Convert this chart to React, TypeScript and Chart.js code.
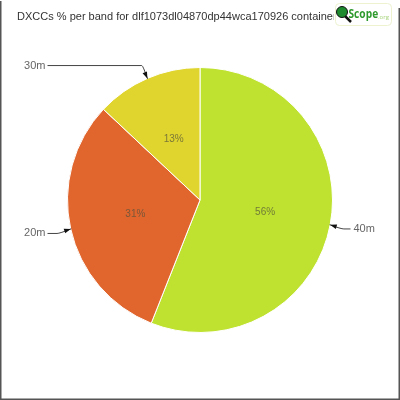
import React, { useEffect, useRef } from "react";
import { Chart, registerables } from "chart.js";

Chart.register(...registerables);

const titleText = "DXCCs % per band for dlf1073dl04870dp44wca170926 container";
const bands = ["40m", "20m", "30m"];
const shares = [56, 31, 13];
const colors = ["#bee22f", "#e0662e", "#e0d52e"];

const decorPlugin = {
  id: "decor",
  afterDatasetsDraw(chart: any) {
    const ctx = chart.ctx as CanvasRenderingContext2D;
    const meta = chart.getDatasetMeta(0);
    const total = shares.reduce((a, b) => a + b, 0);
    ctx.save();
    meta.data.forEach((arc: any, i: number) => {
      const { x, y, startAngle, endAngle, outerRadius } = arc.getProps(
        ["x", "y", "startAngle", "endAngle", "outerRadius"],
        true
      );
      const mid = (startAngle + endAngle) / 2;
      const dx = Math.cos(mid);
      const dy = Math.sin(mid);
      // percentage label
      ctx.font = "10px 'Liberation Sans', 'DejaVu Sans', sans-serif";
      ctx.fillStyle = "rgba(80,80,60,0.7)";
      ctx.textAlign = "center";
      ctx.textBaseline = "middle";
      const pct = Math.round((shares[i] / total) * 100) + "%";
      ctx.fillText(pct, x + dx * outerRadius * 0.5, y + dy * outerRadius * 0.5);

      // outside label with arrow
      const tipX = x + dx * outerRadius;
      const tipY = y + dy * outerRadius;
      const bx = tipX + dx * 14;
      const by = tipY + dy * 14 + (Math.abs(dy) < 0.5 ? 1.5 : 0);
      const left = dx < 0;
      const colX = left ? x - outerRadius - 22 : x + outerRadius + 20;
      ctx.strokeStyle = "#444";
      ctx.lineWidth = 1;
      ctx.beginPath();
      ctx.moveTo(left ? colX + 2 : colX - 2, by);
      ctx.lineTo(bx, by);
      ctx.quadraticCurveTo(bx + (tipX - bx) * 0.2, by, tipX - dx * 0.5, tipY - dy * 0.5);
      ctx.stroke();
      // arrowhead
      const ang = Math.atan2(tipY - by, tipX - bx);
      const sz = 7;
      ctx.fillStyle = "#111";
      ctx.beginPath();
      ctx.moveTo(tipX, tipY);
      ctx.lineTo(tipX - sz * Math.cos(ang - 0.35), tipY - sz * Math.sin(ang - 0.35));
      ctx.lineTo(tipX - sz * Math.cos(ang + 0.35), tipY - sz * Math.sin(ang + 0.35));
      ctx.closePath();
      ctx.fill();

      ctx.font = "11px 'Liberation Sans', 'DejaVu Sans', sans-serif";
      ctx.fillStyle = "#666";
      ctx.textAlign = left ? "right" : "left";
      ctx.fillText(bands[i], left ? colX : colX + 1, by);
    });

    // title
    ctx.font = "11px 'Liberation Sans', 'DejaVu Sans', sans-serif";
    ctx.fillStyle = "#333";
    ctx.textAlign = "left";
    ctx.textBaseline = "middle";
    const part = titleText.slice(0, 57);
    const w = ctx.measureText(part).width;
    const sx = 316 / w;
    ctx.save();
    ctx.translate(17, 16.5);
    ctx.scale(sx, 1);
    ctx.fillText(titleText, 0, 0);
    ctx.restore();

    // logo
    ctx.fillStyle = "#fff";
    ctx.fillRect(334, 3, 58, 24);
    ctx.strokeStyle = "#eef2cf";
    ctx.lineWidth = 1;
    ctx.beginPath();
    (ctx as any).roundRect(335.5, 3.5, 56, 22, 4);
    ctx.stroke();
    // magnifier handle
    ctx.strokeStyle = "#111";
    ctx.lineWidth = 2.5;
    ctx.beginPath();
    ctx.moveTo(345, 16);
    ctx.lineTo(351, 22);
    ctx.stroke();
    ctx.fillStyle = "#1e8a2e";
    ctx.beginPath();
    ctx.arc(342, 12, 5.5, 0, Math.PI * 2);
    ctx.fill();
    ctx.strokeStyle = "#111";
    ctx.lineWidth = 1;
    ctx.stroke();
    ctx.fillStyle = "#2e9a2e";
    ctx.font = "bold 12px 'Open Sans', 'DejaVu Sans', sans-serif";
    ctx.textBaseline = "alphabetic";
    ctx.save();
    ctx.translate(348.5, 18);
    ctx.scale(0.85, 1.1);
    ctx.fillText("Scope", 0, 0);
    ctx.restore();
    ctx.fillStyle = "#a6d37a";
    ctx.font = "6px 'Open Sans', sans-serif";
    ctx.fillText(".org", 378, 19);

    // frame
    ctx.strokeStyle = "#555";
    ctx.lineWidth = 1.5;
    ctx.beginPath();
    ctx.moveTo(0.75, 1);
    ctx.lineTo(0.75, 399.25);
    ctx.lineTo(399.25, 399.25);
    ctx.lineTo(399.25, 8);
    ctx.stroke();
    ctx.restore();
  },
};

export default function App() {
  const ref = useRef<HTMLCanvasElement>(null);
  useEffect(() => {
    if (!ref.current) return;
    const chart = new Chart(ref.current, {
      type: "pie",
      data: {
        labels: bands,
        datasets: [
          {
            data: shares,
            backgroundColor: colors,
            borderColor: "#ffffff",
            borderWidth: 1,
          },
        ],
      },
      options: {
        animation: false,
        responsive: false,
        devicePixelRatio: 1,
        layout: { padding: 67 },
        plugins: {
          legend: { display: false },
          tooltip: { enabled: false },
          title: { display: false },
        },
      },
      plugins: [decorPlugin],
    });
    return () => chart.destroy();
  }, []);
  return (
    <div style={{ position: "fixed", left: 0, top: 0, width: 400, height: 400, background: "#fff" }}>
      <canvas ref={ref} width={400} height={400} style={{ width: 400, height: 400, display: "block" }} />
    </div>
  );
}
